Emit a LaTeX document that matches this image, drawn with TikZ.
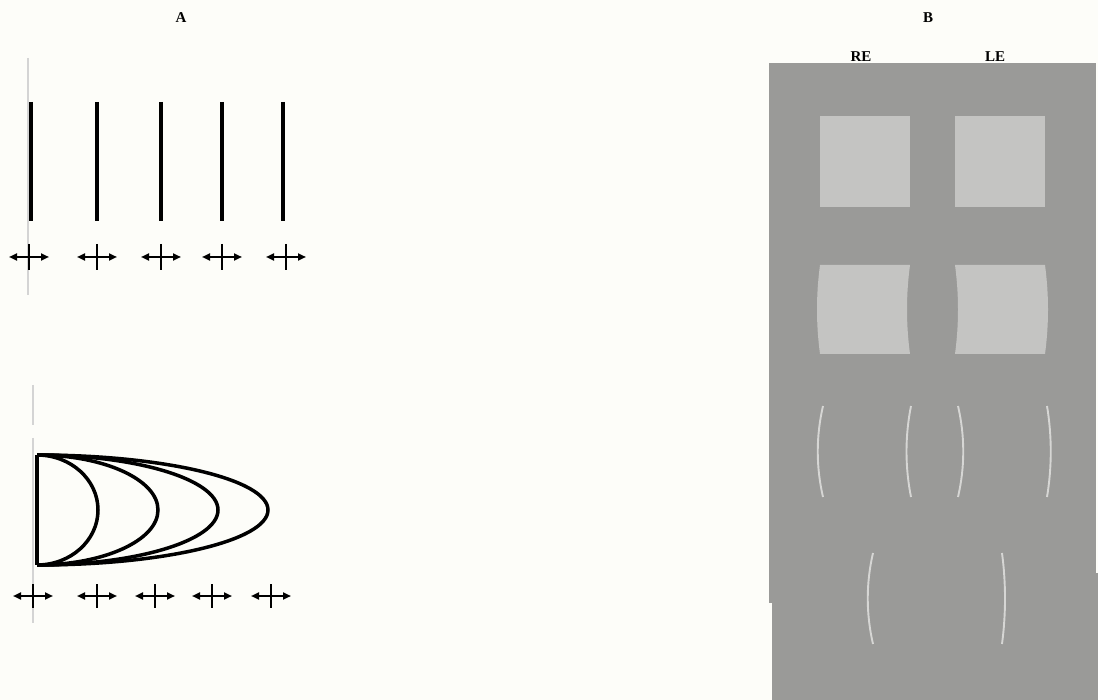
\documentclass[tikz,border=0pt]{standalone}
\usepackage{fontspec}
\setmainfont{Liberation Serif}
\usetikzlibrary{arrows.meta}
\definecolor{bgc}{RGB}{253,253,249}
\definecolor{panelgray}{RGB}{154,154,152}
\definecolor{lightsq}{RGB}{196,196,194}
\definecolor{arcc}{RGB}{214,214,212}
\definecolor{guide}{RGB}{212,212,212}
\tikzset{
  lbl/.style={font=\fontsize{15}{16}\selectfont\bfseries, inner sep=0pt},
  guideline/.style={guide, line width=2.2pt},
  bar/.style={black, line width=4pt},
  shell/.style={black, line width=3.5pt},
  crossv/.style={black, line width=2.8pt},
  crossh/.style={black, line width=2pt, {Triangle[length=8pt,width=7pt]}-{Triangle[length=8pt,width=7pt]}},
  sq/.style={fill=lightsq, draw=none},
  thinarc/.style={arcc, line width=1.9pt}
}
\begin{document}
\begin{tikzpicture}[x=1pt,y=-1pt]
\useasboundingbox (0,0) rectangle (1098,700);
\fill[bgc] (0,0) rectangle (1098,700);

% ---------- Panel A ----------
\node[lbl] (labA) at (181,18) {A};

% upper set
\draw[guideline] (28,58) -- (28,295);
\foreach \x in {31,97,161,222,283} {
  \draw[bar] (\x,102) -- (\x,221);
}
\foreach \x in {29,97,161,222,286} {
  \draw[crossh] (\x-20,257) -- (\x+20,257);
  \draw[crossv] (\x,244) -- (\x,270);
}

% lower set
\draw[guideline] (33,385) -- (33,425);
\draw[guideline] (33,438) -- (33,623);
\draw[shell] (37,455) -- (37,565);
\foreach \r in {61,121,181,231} {
  \draw[shell] (37,455) arc[start angle=-90, end angle=90, x radius=\r, y radius=55];
}
\foreach \x in {33,97,155,212,271} {
  \draw[crossh] (\x-20,596) -- (\x+20,596);
  \draw[crossv] (\x,584) -- (\x,608);
}

% ---------- Panel B ----------
\node[lbl] (labB) at (928,18) {B};
\fill[panelgray] (769,63) rectangle (1096,603);
\fill[panelgray] (772,573) rectangle (1098,700);
\node[lbl] (labRE) at (861,57) {RE};
\node[lbl] (labLE) at (995,57) {LE};

% row 1: squares
\fill[sq] (820,116) rectangle (910,207);
\fill[sq] (955,116) rectangle (1045,207);

% row 2: curved squares
\fill[sq] (820,265) -- (910,265)
  .. controls (906,295) and (906,324) .. (910,354)
  -- (820,354)
  .. controls (816,324) and (816,295) .. (820,265) -- cycle;
\fill[sq] (955,265) -- (1045,265)
  .. controls (1049,295) and (1049,324) .. (1045,354)
  -- (955,354)
  .. controls (959,324) and (959,295) .. (955,265) -- cycle;

% row 3: arcs
\draw[thinarc] (823,406) .. controls (816,436) and (816,467) .. (823,497);
\draw[thinarc] (911,406) .. controls (905,436) and (905,467) .. (911,497);
\draw[thinarc] (958,406) .. controls (965,436) and (965,467) .. (958,497);
\draw[thinarc] (1047,406) .. controls (1052,436) and (1052,467) .. (1047,497);

% row 4: arcs
\draw[thinarc] (873,553) .. controls (866,583) and (866,614) .. (873,644);
\draw[thinarc] (1002,553) .. controls (1006,583) and (1006,614) .. (1002,644);
\end{tikzpicture}
\end{document}
